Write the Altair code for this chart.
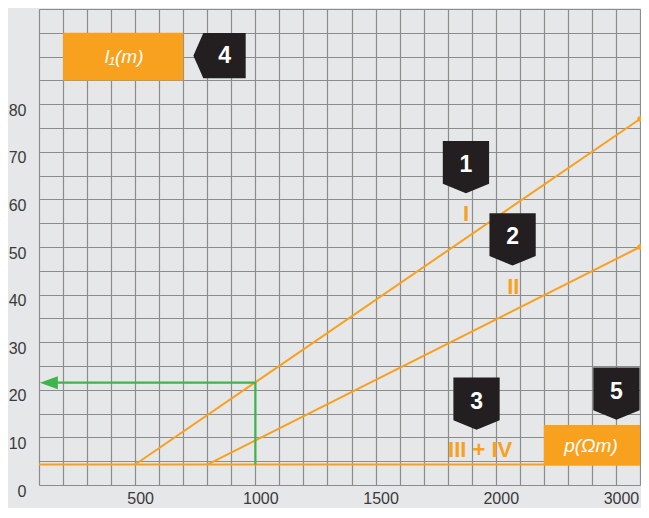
import altair as alt
import pandas as pd

# ---- data ----
line_names = ["I", "II", "III + IV"]
line_x_start = [500, 800, 100]
line_x_end = [2600, 2600, 2600]
line_y_start = [4.3, 4.3, 4.3]
line_y_end = [76.9, 50.0, 4.3]

green_x = [1000, 1000, 141]
green_y = [4.3, 21.5, 21.5]

x_grid = list(range(100, 2700, 100))
y_grid = list(range(0, 105, 5))
x_tick_values = [500, 1000, 1500, 2000, 2500]
x_tick_labels = ["500", "1000", "1500", "2000", "3000"]
y_tick_values = [0, 10, 20, 30, 40, 50, 60, 70, 80]

badge_numbers = ["1", "2", "3", "5"]
badge_x = [1876, 2070, 1920, 2502]
badge_y = [66.8, 51.6, 17.1, 19.2]
badge4_x = [851]
badge4_y = [90.2]

roman_text = ["I", "II", "III + IV"]
roman_x = [1876, 2073, 1935]
roman_y = [57.0, 41.7, 7.4]

box_text = ["l\u2081(m)", "p(\u03a9m)"]
box_x = [200, 2200]
box_x2 = [700, 2600]
box_y = [85, 4.1]
box_y2 = [95, 12.6]
box_text_x = [454, 2396]
box_text_y = [89.9, 8.1]

ORANGE = "#F7A11E"
GREEN = "#3DB54A"
DARK = "#231F20"
BG = "#E6E7E9"

xs = alt.Scale(domain=[100, 2600], nice=False, zero=False)
ys = alt.Scale(domain=[0, 100], nice=False, zero=False)

lines_rows = []
for n, xa, xb, ya, yb in zip(line_names, line_x_start, line_x_end, line_y_start, line_y_end):
    lines_rows.append({"name": n, "x": xa, "y": ya, "o": 0})
    lines_rows.append({"name": n, "x": xb, "y": yb, "o": 1})
lines_df = pd.DataFrame(lines_rows)
ends_df = pd.DataFrame({"x": line_x_end[:2], "y": line_y_end[:2]})
green_df = pd.DataFrame({"x": green_x, "y": green_y, "o": list(range(len(green_x)))})
arrow_df = pd.DataFrame({"x": [green_x[-1]], "y": [green_y[-1]]})
badge_df = pd.DataFrame({"t": badge_numbers, "x": badge_x, "y": badge_y})
badge4_df = pd.DataFrame({"t": ["4"], "x": badge4_x, "y": badge4_y})
roman_df = pd.DataFrame({"t": roman_text, "x": roman_x, "y": roman_y})
box_df = pd.DataFrame({"x": box_x, "x2": box_x2, "y": box_y, "y2": box_y2})
boxtext_df = pd.DataFrame({"t": box_text, "x": box_text_x, "y": box_text_y})

label_expr = " : ".join(
    [f"datum.value == {v} ? '{l}'" for v, l in zip(x_tick_values, x_tick_labels)]
) + " : ''"
y_label_expr = "indexof([" + ",".join(str(v) for v in y_tick_values) + "], datum.value) >= 0 ? datum.label : ''"

x_axis = alt.Axis(values=x_grid, tickCount=len(x_grid), labelExpr=label_expr, title=None, grid=True,
                  ticks=False, domain=False, labelFontSize=16, labelColor="#3a3a3a", labelPadding=5,
                  labelOffset=5, labelFont="Liberation Sans", labelFlush=False, labelOverlap=False,
                  gridColor="#8c8c8c", gridWidth=1.2, gridOpacity=1)
y_axis = alt.Axis(values=y_grid, tickCount=len(y_grid), labelExpr=y_label_expr, title=None, grid=True,
                  ticks=False, domain=False, labelFontSize=16, labelColor="#3a3a3a", labelPadding=13,
                  labelOffset=6, labelFont="Liberation Sans", labelFlush=False, labelOverlap=False,
                  gridColor="#8c8c8c", gridWidth=1.2, gridOpacity=1)

lines = alt.Chart(lines_df).mark_line(color=ORANGE, strokeWidth=2).encode(
    x=alt.X("x:Q", scale=xs, axis=x_axis),
    y=alt.Y("y:Q", scale=ys, axis=y_axis),
    detail="name:N",
    order="o:Q",
)
ends = alt.Chart(ends_df).mark_point(shape="circle", filled=True, size=30, color=ORANGE, opacity=1).encode(
    x=alt.X("x:Q", scale=xs), y=alt.Y("y:Q", scale=ys))
green = alt.Chart(green_df).mark_line(color=GREEN, strokeWidth=2.2).encode(
    x=alt.X("x:Q", scale=xs), y=alt.Y("y:Q", scale=ys), order="o:Q")
arrow = alt.Chart(arrow_df).mark_point(shape="M -1 0 L 1 -0.72 L 1 0.72 Z", filled=True, size=324,
                                       color=GREEN, opacity=1).encode(
    x=alt.X("x:Q", scale=xs), y=alt.Y("y:Q", scale=ys))
boxes = alt.Chart(box_df).mark_rect(color=ORANGE).encode(
    x=alt.X("x:Q", scale=xs), x2="x2:Q", y=alt.Y("y:Q", scale=ys), y2="y2:Q")
box_text_layer = alt.Chart(boxtext_df).mark_text(color="white", fontSize=19, fontStyle="italic",
                                                font="Liberation Sans", fontWeight=300).encode(
    x=alt.X("x:Q", scale=xs), y=alt.Y("y:Q", scale=ys), text="t:N")
badges = alt.Chart(badge_df).mark_point(
    shape="M -0.885 -1 L 0.885 -1 L 0.885 0.64 L 0 1 L -0.885 0.64 Z",
    filled=True, size=2735, color=DARK, opacity=1, strokeWidth=0).encode(
    x=alt.X("x:Q", scale=xs), y=alt.Y("y:Q", scale=ys))
badge_nums = alt.Chart(badge_df).mark_text(color="white", fontSize=23, fontWeight="bold",
                                          font="Liberation Sans", dy=-2).encode(
    x=alt.X("x:Q", scale=xs), y=alt.Y("y:Q", scale=ys), text="t:N")
badge4 = alt.Chart(badge4_df).mark_point(
    shape="M -1 0 L -0.62 -0.866 L 1 -0.866 L 1 0.866 L -0.62 0.866 Z",
    filled=True, size=2735, color=DARK, opacity=1, strokeWidth=0).encode(
    x=alt.X("x:Q", scale=xs), y=alt.Y("y:Q", scale=ys))
badge4_num = alt.Chart(badge4_df).mark_text(color="white", fontSize=23, fontWeight="bold",
                                           font="Liberation Sans", dx=5).encode(
    x=alt.X("x:Q", scale=xs), y=alt.Y("y:Q", scale=ys), text="t:N")
roman = alt.Chart(roman_df).mark_text(color=ORANGE, fontSize=22, fontWeight="bold",
                                      font="Liberation Sans").encode(
    x=alt.X("x:Q", scale=xs), y=alt.Y("y:Q", scale=ys), text="t:N")

chart = alt.layer(
    lines, ends, green, arrow, boxes, box_text_layer, badges, badge_nums, badge4, badge4_num, roman
).properties(
    width=601, height=476,
    autosize=alt.AutoSizeParams(type="none"),
    padding={"left": 31, "top": 1, "right": 1, "bottom": 23},
    background=BG,
).configure_view(fill=BG, stroke=None)

chart.save("out.html", embed_options={"renderer": "svg", "actions": False})
